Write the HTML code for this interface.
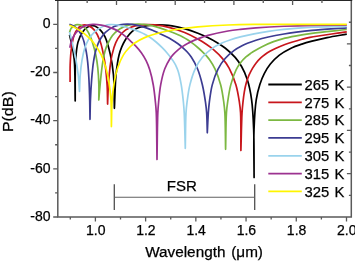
<!DOCTYPE html>
<html><head><meta charset="utf-8"><style>
html,body{margin:0;padding:0;background:#fff;}
body{width:355px;height:261px;overflow:hidden;font-family:"Liberation Sans",sans-serif;}
svg{display:block;will-change:transform;}
</style></head><body>
<svg width="355" height="261" viewBox="0 0 355 261"><rect x="0" y="0" width="355" height="261" fill="#fff"/>
<path d="M69.50 34.80C70.15 37.57 70.79 39.86 71.45 43.12C72.37 47.70 73.60 52.93 74.25 59.74C75.26 70.39 74.88 87.25 75.20 101.00C75.35 87.23 74.87 70.53 75.65 59.68C76.16 52.58 76.62 47.05 77.99 42.14C79.06 38.33 80.47 35.03 82.26 32.41C83.77 30.21 85.71 28.24 87.56 27.12C89.03 26.23 90.80 25.80 92.13 25.68C93.14 25.59 93.82 25.61 94.82 26.01C96.47 26.68 98.94 28.66 100.62 30.43C102.36 32.25 103.70 34.06 105.04 36.86C107.10 41.17 108.94 48.32 110.33 54.44C111.79 60.89 112.75 67.05 113.44 74.67C114.33 84.44 114.08 97.09 114.40 108.30C114.95 97.11 115.07 84.42 116.04 74.72C116.79 67.23 117.80 60.01 119.05 54.93C119.85 51.63 120.68 49.53 121.77 46.95C122.85 44.40 124.36 41.54 125.55 39.54C126.41 38.10 127.03 37.18 128.01 35.95C129.18 34.48 130.74 32.69 132.24 31.42C133.62 30.24 135.15 29.26 136.62 28.50C137.96 27.81 139.29 27.36 140.66 26.96C142.00 26.56 143.29 26.32 144.74 26.07C146.38 25.79 148.14 25.58 149.99 25.40C152.07 25.20 154.28 25.03 156.62 24.97C159.24 24.90 162.32 24.93 164.98 25.11C167.42 25.27 169.31 25.46 171.96 25.90C175.55 26.50 180.28 27.52 184.50 28.69C188.93 29.93 193.83 31.65 197.91 33.23C201.47 34.60 204.49 35.95 207.70 37.51C210.92 39.09 214.23 40.85 217.21 42.66C220.00 44.36 222.39 45.85 225.10 48.00C228.35 50.59 232.33 54.14 235.17 57.40C237.73 60.33 239.67 63.10 241.59 66.52C243.77 70.37 245.71 74.64 247.28 79.53C249.18 85.40 250.54 92.13 251.58 99.53C252.86 108.54 253.25 118.58 253.68 129.83C254.23 143.92 253.96 161.61 254.10 177.50C254.07 161.60 253.51 143.89 254.02 129.81C254.42 118.59 254.98 107.89 256.26 99.59C257.18 93.65 258.38 89.09 259.85 84.50C261.15 80.46 262.59 76.86 264.39 73.39C266.11 70.05 267.96 66.98 270.35 64.03C272.90 60.87 276.04 57.72 279.38 55.13C282.76 52.51 286.73 50.29 290.56 48.43C294.24 46.63 298.20 45.31 301.89 44.07C305.32 42.92 308.24 42.14 311.95 41.17C316.48 39.98 321.74 38.72 327.14 37.61C333.26 36.35 340.25 35.27 346.80 34.10" fill="none" stroke="#000000" stroke-width="1.70" stroke-linejoin="round" stroke-linecap="butt"/>
<path d="M70.10 82.00C70.13 76.30 69.98 70.42 70.18 64.90C70.37 59.70 70.63 54.51 71.21 49.77C71.73 45.52 72.45 40.97 73.34 37.75C73.97 35.49 74.66 33.75 75.48 32.14C76.15 30.81 76.86 29.69 77.71 28.69C78.50 27.77 79.40 26.93 80.35 26.33C81.22 25.77 82.21 25.35 83.15 25.13C84.03 24.93 84.85 24.86 85.80 24.97C86.98 25.12 88.39 25.49 89.68 26.19C91.27 27.05 92.96 28.29 94.43 30.10C96.49 32.63 98.41 36.44 99.97 40.68C102.05 46.33 103.50 54.26 104.68 61.42C105.91 68.94 106.60 77.38 107.08 84.81C107.52 91.54 107.43 97.67 107.60 104.10C107.87 97.72 108.01 91.16 108.42 84.96C108.81 79.08 109.30 73.12 109.96 67.81C110.53 63.17 111.03 59.05 112.02 54.83C112.99 50.68 114.17 46.29 115.79 42.71C117.22 39.56 119.07 36.56 120.93 34.31C122.45 32.48 124.12 31.09 125.79 29.91C127.27 28.86 128.79 28.11 130.36 27.45C131.89 26.80 133.23 26.36 135.07 25.94C137.54 25.38 140.82 24.88 143.96 24.69C147.46 24.48 151.16 24.53 155.13 24.92C159.73 25.38 165.04 26.31 169.91 27.56C174.86 28.84 179.91 30.63 184.60 32.55C189.15 34.42 194.49 37.19 197.68 38.90C199.59 39.91 200.35 40.35 202.14 41.51C205.09 43.42 210.03 46.68 213.50 49.60C216.81 52.40 219.90 55.43 222.55 58.60C225.07 61.61 227.09 64.35 229.11 68.10C231.65 72.80 234.23 79.21 235.95 84.96C237.66 90.64 238.64 97.28 239.42 102.37C240.02 106.30 240.30 108.30 240.57 112.89C241.08 121.54 240.79 137.90 240.90 150.40C241.28 137.93 241.52 121.64 242.03 112.99C242.30 108.40 242.57 105.97 242.95 102.46C243.34 98.93 243.73 95.29 244.33 91.89C244.89 88.68 245.60 85.35 246.37 82.60C247.01 80.35 247.85 78.13 248.47 76.54C248.88 75.48 249.11 74.96 249.59 73.95C250.31 72.44 251.40 70.23 252.47 68.41C253.57 66.54 254.78 64.65 256.15 62.91C257.54 61.13 259.16 59.36 260.76 57.86C262.23 56.48 263.77 55.30 265.33 54.19C266.83 53.12 268.26 52.25 269.92 51.30C271.78 50.25 273.75 49.24 275.99 48.20C278.66 46.97 281.45 45.76 284.95 44.51C289.69 42.81 297.37 40.55 301.98 39.29C305.10 38.44 306.26 38.10 309.87 37.40C317.64 35.88 334.49 33.67 346.80 31.80" fill="none" stroke="#c8161c" stroke-width="1.70" stroke-linejoin="round" stroke-linecap="butt"/>
<path d="M69.50 32.50C70.00 31.16 70.23 29.63 71.01 28.49C71.77 27.35 72.96 26.28 74.08 25.64C75.09 25.06 76.12 24.70 77.34 24.67C78.86 24.63 80.97 25.09 82.53 25.92C84.17 26.81 85.61 28.32 86.88 29.98C88.32 31.87 89.53 34.69 90.48 36.85C91.27 38.66 91.67 39.88 92.33 42.01C93.38 45.35 94.90 50.69 95.81 55.04C96.71 59.31 97.28 63.28 97.78 67.88C98.35 73.15 98.70 79.42 98.86 84.93C99.01 90.11 98.82 94.98 98.80 100.00C99.24 94.98 99.61 90.12 100.11 84.94C100.64 79.41 101.21 73.11 101.93 67.82C102.55 63.22 103.20 58.72 104.06 54.95C104.74 51.91 105.34 49.56 106.39 46.85C107.54 43.90 109.17 40.45 110.79 37.94C112.13 35.86 113.53 34.20 115.11 32.65C116.63 31.15 118.11 29.90 120.06 28.74C122.40 27.35 125.44 25.98 128.39 25.19C131.46 24.36 134.88 24.03 138.15 23.99C141.45 23.95 144.94 24.44 148.09 24.96C151.00 25.45 153.33 26.06 156.42 26.94C160.43 28.09 166.10 30.05 170.03 31.51C173.09 32.65 175.79 33.78 178.10 34.81C179.88 35.59 181.20 36.22 182.75 37.03C184.36 37.88 185.99 38.81 187.57 39.82C189.19 40.85 190.74 41.96 192.33 43.16C194.02 44.42 195.79 45.87 197.42 47.24C199.00 48.57 200.47 49.84 201.98 51.28C203.56 52.79 205.33 54.58 206.68 56.10C207.80 57.37 208.52 58.19 209.58 59.73C211.20 62.06 213.42 65.41 215.10 69.02C217.22 73.55 219.27 79.53 220.71 85.03C222.18 90.64 223.08 97.29 223.79 102.36C224.34 106.31 224.59 108.35 224.87 112.94C225.39 121.43 225.36 137.18 225.60 149.30C225.88 137.17 225.88 121.39 226.44 112.92C226.74 108.36 227.02 106.35 227.59 102.41C228.33 97.29 229.28 90.42 230.76 84.85C232.16 79.59 234.20 73.75 236.08 69.84C237.39 67.10 238.56 65.32 240.15 63.21C241.83 61.01 244.06 58.68 245.95 56.95C247.50 55.53 248.88 54.56 250.50 53.42C252.23 52.20 254.14 51.02 256.04 49.91C257.98 48.77 259.69 47.80 262.04 46.65C265.22 45.10 269.66 43.08 273.53 41.65C277.31 40.26 280.76 39.22 284.97 38.16C290.04 36.89 296.99 35.66 301.91 34.80C305.69 34.15 307.59 33.87 311.96 33.31C320.07 32.26 335.19 30.77 346.80 29.50" fill="none" stroke="#7cb842" stroke-width="1.70" stroke-linejoin="round" stroke-linecap="butt"/>
<path d="M69.40 24.20C70.81 24.81 72.24 25.17 73.62 26.04C75.24 27.06 76.98 28.46 78.38 30.14C79.94 32.03 81.33 34.75 82.34 37.00C83.24 39.00 83.71 40.71 84.32 42.91C85.05 45.59 85.74 48.85 86.29 51.95C86.86 55.19 87.26 58.13 87.66 61.96C88.20 67.08 88.64 73.79 88.98 79.96C89.33 86.45 89.52 93.37 89.69 99.98C89.86 106.48 89.90 112.86 90.00 119.30C90.15 112.86 90.18 106.47 90.44 99.97C90.71 93.36 91.16 85.78 91.60 79.97C91.95 75.47 92.36 71.33 92.72 68.01C92.98 65.65 93.18 64.04 93.50 61.96C93.84 59.71 94.21 57.31 94.71 55.00C95.22 52.66 95.86 50.13 96.53 48.00C97.12 46.16 97.69 44.60 98.43 42.94C99.18 41.26 99.94 39.64 101.00 37.99C102.20 36.13 103.51 34.15 105.40 32.40C107.68 30.29 111.40 27.85 114.09 26.58C116.13 25.61 117.76 25.23 119.87 24.84C122.32 24.38 125.24 24.15 127.97 24.20C130.76 24.24 133.62 24.61 136.42 25.13C139.24 25.66 142.03 26.46 144.83 27.37C147.71 28.32 151.06 29.73 153.46 30.73C155.21 31.45 156.27 31.94 157.95 32.71C160.14 33.71 163.08 35.07 165.47 36.28C167.71 37.42 169.79 38.52 171.87 39.77C173.96 41.02 176.09 42.41 177.99 43.80C179.76 45.08 181.36 46.36 182.94 47.77C184.52 49.18 186.07 50.69 187.47 52.25C188.84 53.78 189.94 55.01 191.26 57.03C193.21 60.00 195.70 64.40 197.49 68.71C199.50 73.59 201.08 79.38 202.41 84.93C203.77 90.62 204.79 97.34 205.52 102.46C206.08 106.40 206.37 108.93 206.66 113.00C207.05 118.57 207.09 126.20 207.30 132.80C207.64 126.19 207.91 118.55 208.31 112.97C208.61 108.89 208.80 106.34 209.32 102.38C209.99 97.26 210.77 90.50 212.25 84.88C213.69 79.39 215.66 73.63 218.02 69.02C220.07 65.01 222.42 61.65 225.15 58.52C227.83 55.45 231.21 52.61 234.22 50.40C236.82 48.49 239.61 47.02 242.00 45.78C243.95 44.77 245.41 44.14 247.45 43.32C249.96 42.31 252.87 41.24 256.00 40.26C259.71 39.10 263.95 37.97 268.32 36.97C273.22 35.85 279.09 34.79 284.01 33.97C288.37 33.24 292.00 32.77 296.36 32.21C301.26 31.58 305.74 31.02 311.98 30.42C321.28 29.54 335.19 28.67 346.80 27.80" fill="none" stroke="#3c3c92" stroke-width="1.70" stroke-linejoin="round" stroke-linecap="butt"/>
<path d="M69.50 32.00C70.19 34.66 70.91 37.32 71.57 39.99C72.23 42.65 72.83 45.06 73.48 48.01C74.28 51.60 75.21 55.78 75.96 60.02C76.80 64.72 77.62 69.85 78.20 74.97C78.81 80.33 79.07 85.99 79.50 91.50C79.75 85.97 79.80 80.29 80.24 74.90C80.67 69.75 81.23 64.55 82.05 59.84C82.80 55.59 83.88 50.93 84.83 47.85C85.44 45.86 85.91 44.68 86.71 43.02C87.62 41.12 88.78 38.96 90.10 37.11C91.43 35.24 93.27 33.24 94.67 31.87C95.71 30.86 96.32 30.28 97.59 29.44C99.49 28.17 103.01 26.24 105.31 25.45C106.99 24.87 108.28 24.72 109.92 24.59C111.76 24.44 113.64 24.48 115.85 24.76C118.72 25.13 122.37 26.09 125.60 26.98C128.88 27.88 132.71 29.23 135.35 30.17C137.19 30.82 138.45 31.29 139.99 31.94C141.56 32.61 143.16 33.34 144.69 34.15C146.21 34.95 147.53 35.71 149.12 36.78C151.14 38.13 153.61 39.96 155.76 41.75C157.97 43.59 160.22 45.70 162.20 47.68C164.04 49.52 165.76 51.41 167.30 53.20C168.69 54.82 170.03 56.50 171.10 57.94C171.96 59.08 172.57 59.93 173.30 61.09C174.13 62.41 175.03 63.91 175.80 65.48C176.63 67.19 177.36 68.68 178.08 70.97C179.22 74.51 180.38 79.95 181.25 84.88C182.21 90.38 182.91 97.36 183.43 102.48C183.82 106.42 183.99 108.44 184.23 112.98C184.67 121.30 184.94 136.59 185.30 148.40C185.53 136.58 185.52 121.26 186.00 112.94C186.26 108.39 186.50 106.36 187.01 102.42C187.67 97.31 188.49 90.55 189.89 84.89C191.25 79.36 192.97 73.61 195.22 68.82C197.23 64.53 199.44 60.82 202.40 57.32C205.52 53.63 210.04 49.85 213.65 47.35C216.49 45.38 219.13 44.23 221.91 42.98C224.57 41.78 227.08 40.91 229.95 39.95C233.17 38.88 236.61 37.90 240.32 36.94C244.56 35.84 249.41 34.73 254.04 33.81C258.75 32.86 263.48 32.06 268.37 31.34C273.45 30.59 278.01 30.00 283.97 29.40C291.94 28.59 302.09 27.73 311.93 27.22C322.91 26.65 335.18 26.61 346.80 26.30" fill="none" stroke="#9ad3ec" stroke-width="1.70" stroke-linejoin="round" stroke-linecap="butt"/>
<path d="M69.80 47.70C70.27 45.75 70.60 43.70 71.20 41.86C71.76 40.14 72.47 38.49 73.24 36.99C73.95 35.62 74.57 34.48 75.60 33.19C76.88 31.59 78.88 29.54 80.60 28.29C82.08 27.21 83.41 26.52 85.17 25.91C87.32 25.15 90.46 24.63 92.69 24.44C94.46 24.29 95.71 24.38 97.47 24.55C99.69 24.77 102.36 25.18 104.95 25.86C107.90 26.64 111.52 27.95 114.19 29.15C116.36 30.12 118.24 31.25 119.90 32.29C121.27 33.15 122.33 33.95 123.51 34.87C124.73 35.81 125.97 36.89 127.10 37.88C128.14 38.78 128.93 39.49 130.06 40.55C131.63 42.01 133.77 43.94 135.58 45.88C137.53 47.97 139.60 50.28 141.34 52.72C143.11 55.20 144.71 57.84 146.11 60.65C147.55 63.58 148.71 66.45 149.81 69.97C151.18 74.34 152.37 79.77 153.29 84.99C154.28 90.57 154.95 97.37 155.46 102.46C155.86 106.40 156.06 108.21 156.28 112.97C156.74 122.95 156.76 143.99 157.00 159.50C157.27 143.99 157.36 122.96 157.81 112.97C158.03 108.21 158.20 106.40 158.58 102.45C159.07 97.32 159.61 90.52 160.68 84.82C161.71 79.31 163.03 73.47 164.80 68.80C166.29 64.88 168.53 60.96 170.11 58.46C171.11 56.90 171.76 56.13 172.88 54.87C174.29 53.28 176.33 51.28 178.07 49.81C179.62 48.49 181.15 47.42 182.76 46.36C184.33 45.32 185.97 44.38 187.60 43.50C189.19 42.65 190.80 41.88 192.41 41.14C193.99 40.42 195.57 39.77 197.17 39.13C198.77 38.50 200.31 37.92 202.01 37.33C203.90 36.68 205.40 36.12 208.00 35.41C212.69 34.15 222.08 32.04 227.97 31.00C232.57 30.19 235.98 29.84 240.36 29.35C245.26 28.80 250.01 28.36 255.98 27.91C263.96 27.31 274.66 26.68 284.00 26.25C293.33 25.82 302.14 25.52 311.97 25.32C322.95 25.11 335.19 25.17 346.80 25.10" fill="none" stroke="#9c3290" stroke-width="1.70" stroke-linejoin="round" stroke-linecap="butt"/>
<path d="M69.40 25.20C71.45 26.09 73.56 26.85 75.54 27.88C77.52 28.91 79.38 30.06 81.26 31.38C83.26 32.78 85.58 34.72 87.17 36.11C88.31 37.11 89.03 37.81 90.01 38.81C91.15 39.96 92.24 40.96 93.56 42.69C95.72 45.52 99.05 50.46 101.12 54.67C103.17 58.87 104.64 63.45 105.92 67.92C107.18 72.31 107.97 76.41 108.77 81.24C109.70 86.91 110.51 93.07 110.96 99.84C111.51 107.94 111.25 117.68 111.40 126.60C111.64 117.69 111.55 107.68 112.12 99.86C112.56 93.71 113.13 88.82 114.07 83.42C114.99 78.09 116.02 72.58 117.68 67.67C119.22 63.10 121.26 58.47 123.47 54.86C125.32 51.85 127.51 49.35 129.62 47.23C131.42 45.42 132.99 44.17 135.16 42.73C137.82 40.95 141.33 39.10 144.62 37.64C147.97 36.17 151.26 35.08 155.09 33.97C159.58 32.66 165.01 31.46 169.95 30.50C174.78 29.57 179.64 28.89 184.38 28.27C188.97 27.67 192.54 27.27 197.95 26.82C206.00 26.15 218.16 25.41 228.00 25.01C237.49 24.63 246.65 24.55 255.98 24.45C265.32 24.35 274.66 24.41 284.00 24.41C293.33 24.41 302.16 24.45 312.00 24.44C322.97 24.42 335.20 24.35 346.80 24.30" fill="none" stroke="#fff500" stroke-width="1.70" stroke-linejoin="round" stroke-linecap="butt"/>
<path d="M57.80 0V217.00H351.30V0" fill="none" stroke="#5a5a5a" stroke-width="1.5" stroke-linejoin="miter"/>
<path d="M55 0.55H352.2" stroke="#262626" stroke-width="1.1"/>
<path d="M53.20 24.35H57.80M55.10 48.43H57.80M53.20 72.51H57.80M55.10 96.59H57.80M53.20 120.67H57.80M55.10 144.75H57.80M53.20 168.83H57.80M55.10 192.91H57.80M53.20 216.99H57.80M70.29 217.00V219.60M95.40 217.00V221.60M120.51 217.00V219.60M145.62 217.00V221.60M170.73 217.00V219.60M195.84 217.00V221.60M220.95 217.00V219.60M246.06 217.00V221.60M271.17 217.00V219.60M296.28 217.00V221.60M321.39 217.00V219.60M346.50 217.00V221.60M87.15 0.00V3.00M116.50 0.00V5.00M145.85 0.00V3.00M175.20 0.00V5.00M204.55 0.00V3.00M233.90 0.00V5.00M263.25 0.00V3.00M292.60 0.00V5.00M321.95 0.00V3.00M348.90 195.36H351.30M346.90 173.72H351.30M348.90 152.08H351.30M346.90 130.44H351.30M348.90 108.80H351.30M346.90 87.16H351.30M348.90 65.52H351.30M346.90 43.88H351.30M348.90 22.24H351.30" stroke="#5a5a5a" stroke-width="1.3" fill="none"/>
<text x="50.6" y="28.05" font-family="&quot;Liberation Sans&quot;, sans-serif" stroke="#000" stroke-width="0.25" font-size="14" text-anchor="end" fill="#000">0</text>
<text x="50.6" y="76.21" font-family="&quot;Liberation Sans&quot;, sans-serif" stroke="#000" stroke-width="0.25" font-size="14" text-anchor="end" fill="#000">-20</text>
<text x="50.6" y="124.37" font-family="&quot;Liberation Sans&quot;, sans-serif" stroke="#000" stroke-width="0.25" font-size="14" text-anchor="end" fill="#000">-40</text>
<text x="50.6" y="172.53" font-family="&quot;Liberation Sans&quot;, sans-serif" stroke="#000" stroke-width="0.25" font-size="14" text-anchor="end" fill="#000">-60</text>
<text x="50.6" y="220.69" font-family="&quot;Liberation Sans&quot;, sans-serif" stroke="#000" stroke-width="0.25" font-size="14" text-anchor="end" fill="#000">-80</text>
<text x="95.70" y="235.3" font-family="&quot;Liberation Sans&quot;, sans-serif" stroke="#000" stroke-width="0.25" font-size="14" text-anchor="middle" fill="#000">1.0</text>
<text x="145.92" y="235.3" font-family="&quot;Liberation Sans&quot;, sans-serif" stroke="#000" stroke-width="0.25" font-size="14" text-anchor="middle" fill="#000">1.2</text>
<text x="196.14" y="235.3" font-family="&quot;Liberation Sans&quot;, sans-serif" stroke="#000" stroke-width="0.25" font-size="14" text-anchor="middle" fill="#000">1.4</text>
<text x="246.36" y="235.3" font-family="&quot;Liberation Sans&quot;, sans-serif" stroke="#000" stroke-width="0.25" font-size="14" text-anchor="middle" fill="#000">1.6</text>
<text x="296.58" y="235.3" font-family="&quot;Liberation Sans&quot;, sans-serif" stroke="#000" stroke-width="0.25" font-size="14" text-anchor="middle" fill="#000">1.8</text>
<text x="346.80" y="235.3" font-family="&quot;Liberation Sans&quot;, sans-serif" stroke="#000" stroke-width="0.25" font-size="14" text-anchor="middle" fill="#000">2.0</text>
<text x="145.2" y="257.2" font-family="&quot;Liberation Sans&quot;, sans-serif" stroke="#000" stroke-width="0.25" font-size="15.3" fill="#000">Wavelength<tspan dx="5.8">(&#956;m)</tspan></text>
<text transform="translate(12.7,132.1) rotate(-90) scale(1.065,1)" x="0" y="0" font-family="&quot;Liberation Sans&quot;, sans-serif" stroke="#000" stroke-width="0.25" font-size="15" fill="#000">P(dB)</text>
<path d="M268.3 84.50H301.8" stroke="#000000" stroke-width="1.8"/>
<text x="304.6" y="89.70" font-family="&quot;Liberation Sans&quot;, sans-serif" stroke="#000" stroke-width="0.25" font-size="14.8" fill="#000">265 <tspan dx="1.0">K</tspan></text>
<path d="M268.3 102.32H301.8" stroke="#c8161c" stroke-width="1.8"/>
<text x="304.6" y="107.52" font-family="&quot;Liberation Sans&quot;, sans-serif" stroke="#000" stroke-width="0.25" font-size="14.8" fill="#000">275 <tspan dx="1.0">K</tspan></text>
<path d="M268.3 120.14H301.8" stroke="#7cb842" stroke-width="1.8"/>
<text x="304.6" y="125.34" font-family="&quot;Liberation Sans&quot;, sans-serif" stroke="#000" stroke-width="0.25" font-size="14.8" fill="#000">285 <tspan dx="1.0">K</tspan></text>
<path d="M268.3 137.96H301.8" stroke="#3c3c92" stroke-width="1.8"/>
<text x="304.6" y="143.16" font-family="&quot;Liberation Sans&quot;, sans-serif" stroke="#000" stroke-width="0.25" font-size="14.8" fill="#000">295 <tspan dx="1.0">K</tspan></text>
<path d="M268.3 155.78H301.8" stroke="#9ad3ec" stroke-width="1.8"/>
<text x="304.6" y="160.98" font-family="&quot;Liberation Sans&quot;, sans-serif" stroke="#000" stroke-width="0.25" font-size="14.8" fill="#000">305 <tspan dx="1.0">K</tspan></text>
<path d="M268.3 173.60H301.8" stroke="#9c3290" stroke-width="1.8"/>
<text x="304.6" y="178.80" font-family="&quot;Liberation Sans&quot;, sans-serif" stroke="#000" stroke-width="0.25" font-size="14.8" fill="#000">315 <tspan dx="1.0">K</tspan></text>
<path d="M268.3 191.42H301.8" stroke="#fff500" stroke-width="1.8"/>
<text x="304.6" y="196.62" font-family="&quot;Liberation Sans&quot;, sans-serif" stroke="#000" stroke-width="0.25" font-size="14.8" fill="#000">325 <tspan dx="1.0">K</tspan></text>
<path d="M114.3 184.3V210.1M254.7 184.3V210.1" stroke="#505050" stroke-width="1.3" fill="none"/><path d="M114.3 197.3H254.7" stroke="#606060" stroke-width="1.05" fill="none"/>
<text x="166.8" y="191.1" font-family="&quot;Liberation Sans&quot;, sans-serif" stroke="#000" stroke-width="0.25" font-size="15" fill="#000">FSR</text></svg>
</body></html>
